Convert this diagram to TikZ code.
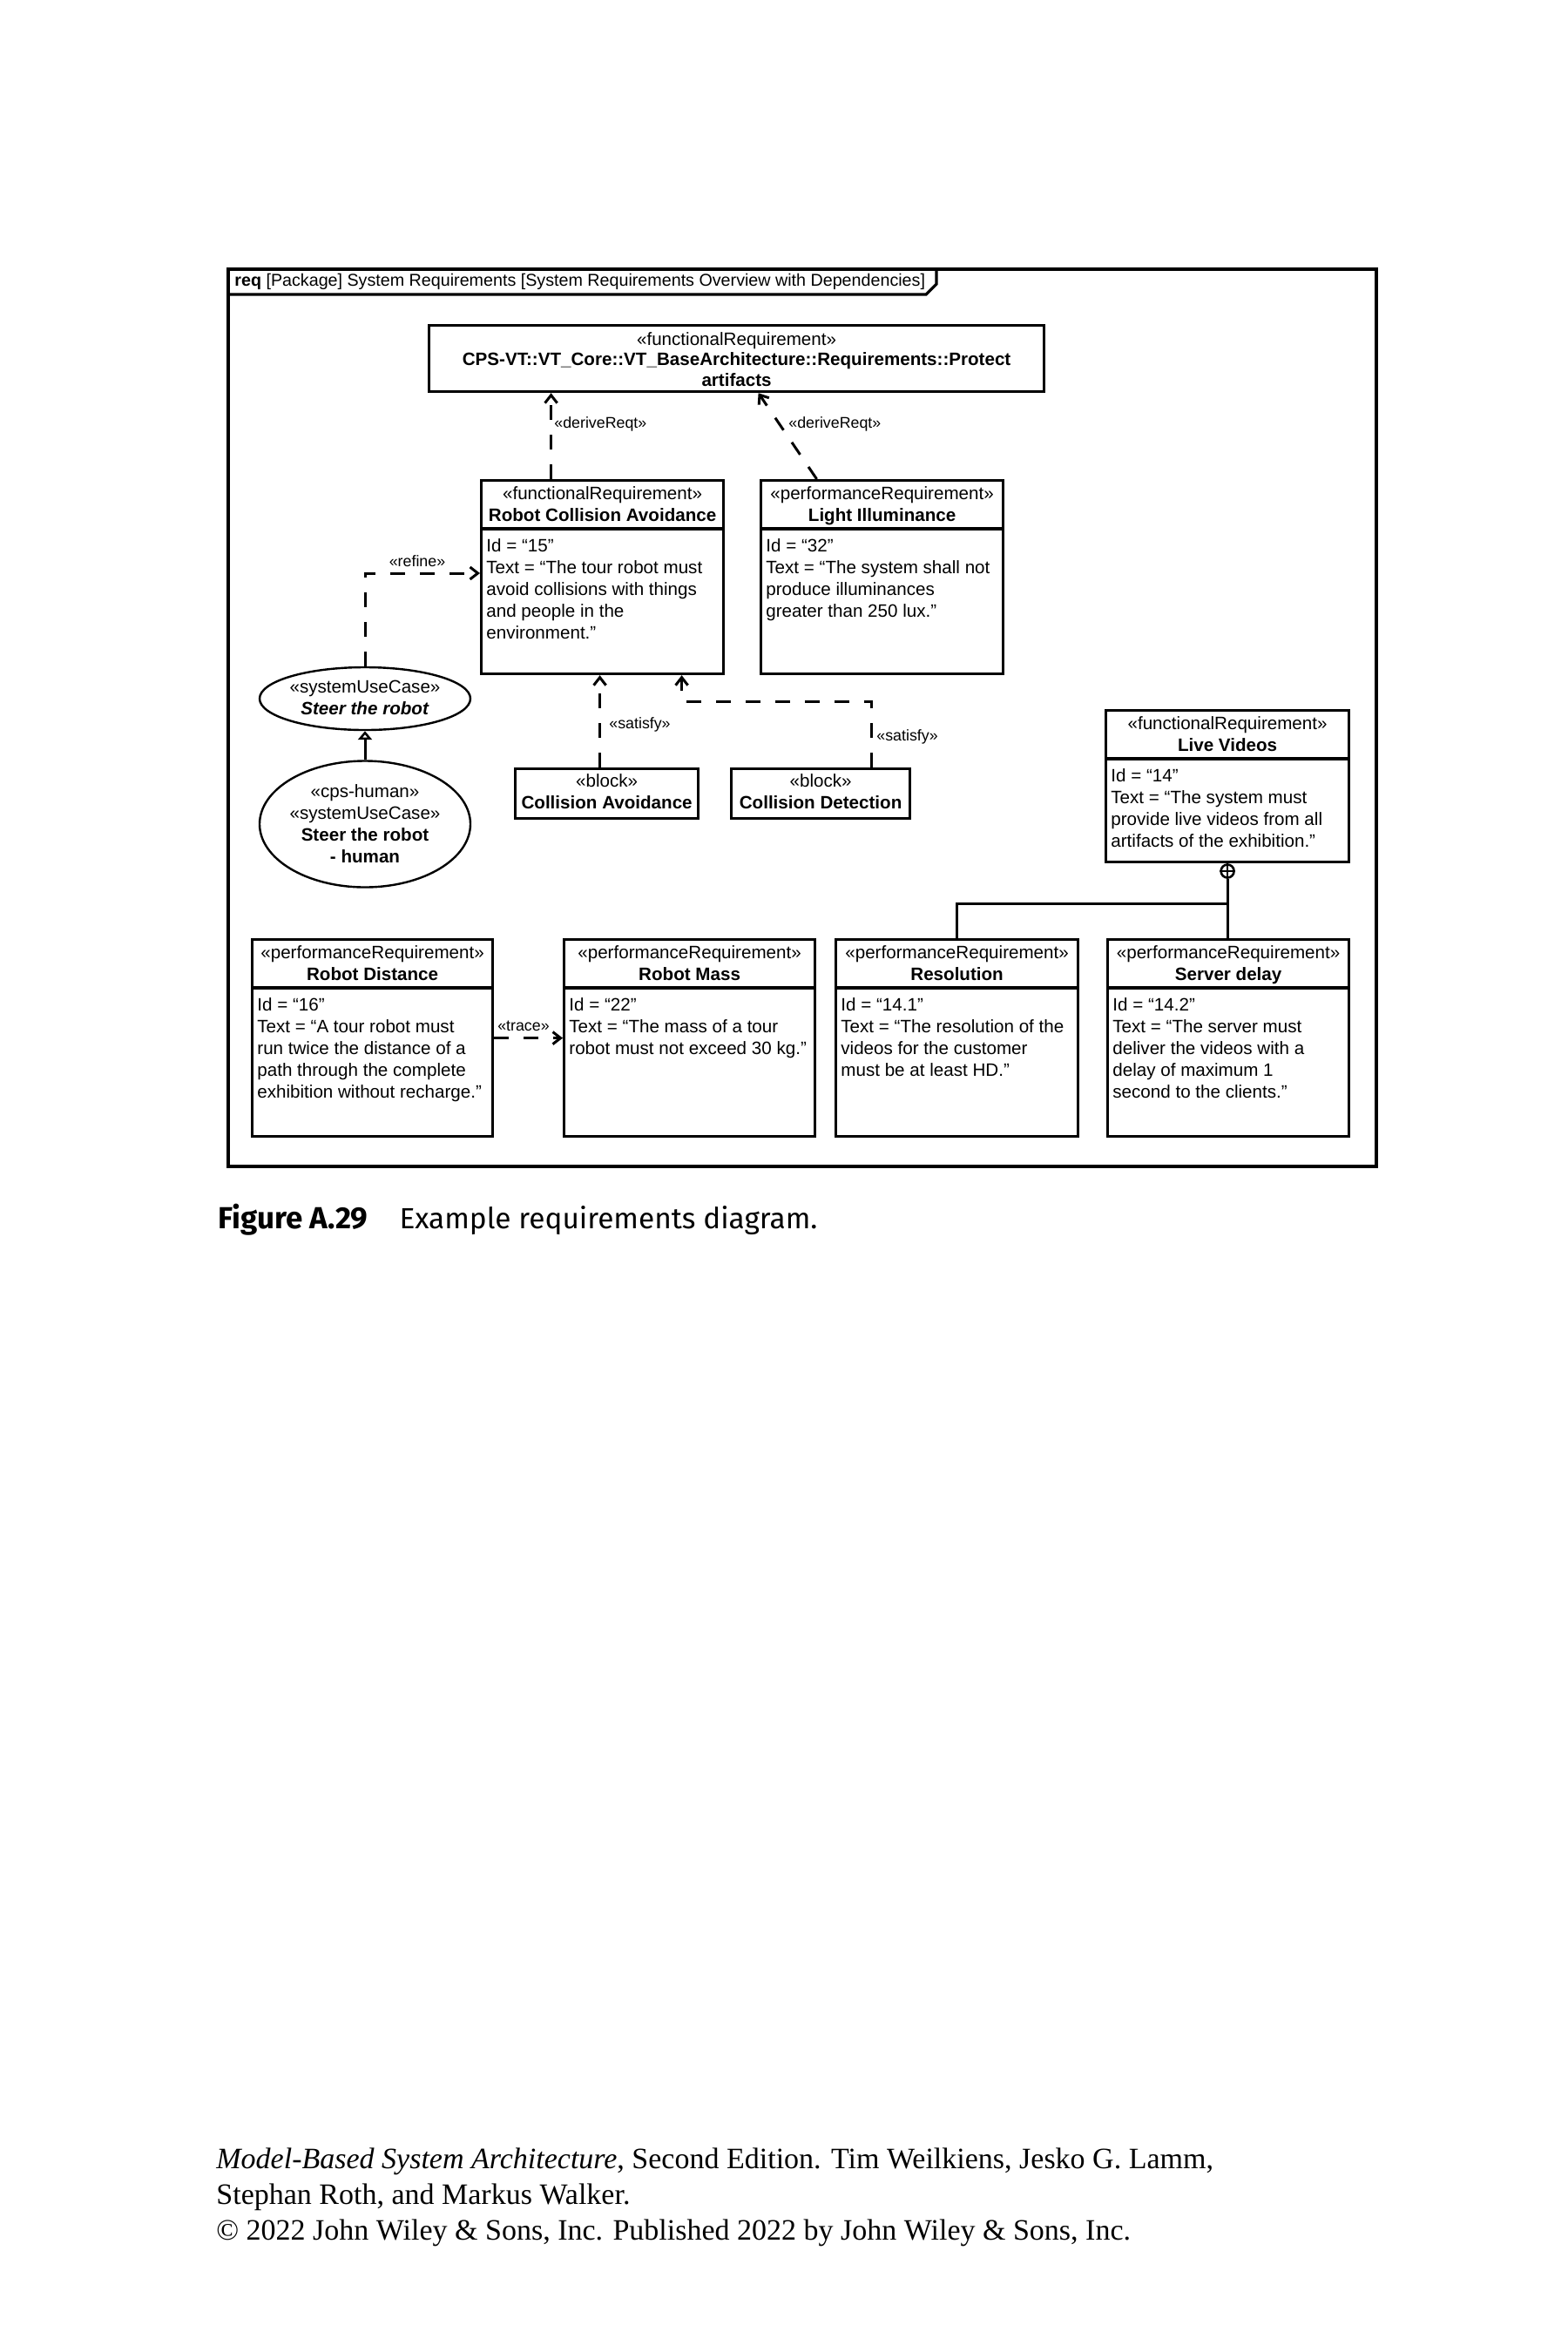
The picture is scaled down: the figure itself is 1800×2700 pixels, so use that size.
\documentclass[tikz,border=0pt]{standalone}
\usepackage{fontspec}
\setmainfont{Liberation Sans}
\newfontfamily\capfont{Fira Sans}
\newfontfamily\footfont{Liberation Serif}
\usetikzlibrary{arrows.meta,shapes.geometric,calc}

\newcommand\mlines[2]{\begin{tabular}[t]{@{}#1@{}}#2\end{tabular}}

\tikzset{
  x=0.5pt, y=-0.5pt,
  boxline/.style={line width=1.6pt},
  reqbox/.style={draw, boxline, rectangle, inner sep=0pt, anchor=north west},
  txt/.style={inner sep=0pt, font=\fontsize{10.3}{12.5}\selectfont},
  lbl/.style={inner sep=0pt, font=\fontsize{8.9}{10}\selectfont},
  dep/.style={line width=1.5pt, dash pattern=on 8.5pt off 8.5pt,
    -{Straight Barb[length=4.5pt,width=7pt,line width=1.5pt]}},
  conn/.style={line width=1.5pt},
  usecase/.style={ellipse, draw, line width=1.2pt, inner sep=0pt, minimum width=121pt},
}

\newcommand\req[8]{%
  \node[reqbox, minimum width=#4*0.5pt, minimum height=#5*0.5pt] (#1) at (#2,#3) {};
  \draw[boxline] ([yshift=-28.5pt]#1.north west) -- ([yshift=-28.5pt]#1.north east);
  \node[txt, anchor=base] (#1-h) at ([yshift=-11.5pt]#1.north) {\mlines{c}{#6\\\textbf{#7}}};
  \node[txt, anchor=base west] (#1-b) at ([xshift=3.5pt,yshift=-41.5pt]#1.north west) {\mlines{l}{#8}};
}

\begin{document}
\begin{tikzpicture}
\useasboundingbox (0,0) rectangle (1800,2700);

% frame
\node[draw, line width=2pt, rectangle, inner sep=0pt, anchor=north west,
  minimum width=659pt, minimum height=515pt] (frame) at (260,307) {};
\draw[boxline] (260,338) -- (1063,338) -- (1075,326) -- (1075,307);
\node[inner sep=0pt, anchor=base west, font=\fontsize{9.85}{11}\selectfont] (title) at (269,328)
  {\textbf{req} [Package] System Requirements [System Requirements Overview with Dependencies]};

% top requirement
\node[reqbox, minimum width=353pt, minimum height=38pt] (cps) at (491,372) {};
\node[txt, anchor=base] (cps-h) at ([yshift=-12pt]cps.north)
  {\fontsize{10.3}{11.8}\selectfont\mlines{c}{«functionalRequirement»\\\textbf{CPS-VT::VT\_Core::VT\_BaseArchitecture::Requirements::Protect}\\\textbf{artifacts}}};

% requirement boxes
\req{rca}{551}{550}{278}{222}{«functionalRequirement»}{Robot Collision Avoidance}
  {Id = “15”\\Text = “The tour robot must\\avoid collisions with things\\and people in the\\environment.”}
\req{li}{872}{550}{278}{222}{«performanceRequirement»}{Light Illuminance}
  {Id = “32”\\Text = “The system shall not\\produce illuminances\\greater than 250 lux.”}
\req{lv}{1268}{814}{279}{174}{«functionalRequirement»}{Live Videos}
  {Id = “14”\\Text = “The system must\\provide live videos from all\\artifacts of the exhibition.”}
\req{rd}{288}{1077}{276}{226}{«performanceRequirement»}{Robot Distance}
  {Id = “16”\\Text = “A tour robot must\\run twice the distance of a\\path through the complete\\exhibition without recharge.”}
\req{rm}{646}{1077}{288}{226}{«performanceRequirement»}{Robot Mass}
  {Id = “22”\\Text = “The mass of a tour\\robot must not exceed 30 kg.”}
\req{res}{958}{1077}{278}{226}{«performanceRequirement»}{Resolution}
  {Id = “14.1”\\Text = “The resolution of the\\videos for the customer\\must be at least HD.”}
\req{sd}{1270}{1077}{277}{226}{«performanceRequirement»}{Server delay}
  {Id = “14.2”\\Text = “The server must\\deliver the videos with a\\delay of maximum 1\\second to the clients.”}

% blocks
\node[reqbox, minimum width=105pt, minimum height=28.5pt] (ca) at (590,881) {};
\node[txt, anchor=base] (ca-t) at ([yshift=-11pt]ca.north) {\mlines{c}{«block»\\\textbf{Collision Avoidance}}};
\node[reqbox, minimum width=102.5pt, minimum height=28.5pt] (cd) at (838,881) {};
\node[txt, anchor=base] (cd-t) at ([yshift=-11pt]cd.north) {\mlines{c}{«block»\\\textbf{Collision Detection}}};

% use cases
\node[usecase, minimum height=36pt] (e1) at (419,802) {};
\node[txt, anchor=base] (e1t) at (419,795) {\mlines{c}{«systemUseCase»\\\textbf{\itshape Steer the robot}}};
\node[usecase, minimum height=72.5pt] (e2) at (419,946) {};
\node[txt, anchor=base] (e2t) at (419,915) {\mlines{c}{«cps-human»\\«systemUseCase»\\\textbf{Steer the robot}\\\textbf{- human}}};

% generalization
\draw[conn, -{Triangle[open, length=5pt, width=8pt, line width=1.3pt]}] (e2.north) -- (e1.south);

% dependencies
\draw[dep] ([xshift=-29.5pt]rca.north) -- ([xshift=-29.5pt]rca.north |- cps.south);
\node[lbl, anchor=base west] (l1) at (636,491) {«deriveReqt»};
\draw[dep] ([xshift=-37.5pt]li.north) -- ([xshift=12.5pt]cps.south);
\node[lbl, anchor=base west] (l2) at (905,491) {«deriveReqt»};
\draw[dep] (e1.north) |- ([yshift=-54pt]rca.north west);
\node[lbl, anchor=base] (l3) at (479,650) {«refine»};
\draw[dep] ([xshift=-4pt]ca.north) -- ([xshift=-4pt]ca.north |- rca.south);
\node[lbl, anchor=base west] (l4) at (699,836) {«satisfy»};
\draw[dep] ([xshift=29.25pt]cd.north) -- ++(0,-76) -| ([xshift=45.5pt]rca.south);
\node[lbl, anchor=base west] (l5) at (1006,850) {«satisfy»};
\draw[dep] (rd.east) -- (rm.west);
\node[lbl, anchor=base] (l6) at (601,1183) {«trace»};

% containment
\node[circle, draw, line width=1.3pt, minimum size=7.5pt, inner sep=0pt, anchor=north] (cont) at (lv.south) {};
\draw[line width=1.1pt] (cont.north) -- (cont.south) (cont.west) -- (cont.east);
\coordinate (junc) at (cont.south |- 0,1037);
\draw[conn] (cont.south) -- (cont.south |- sd.north);
\draw[conn] (res.north) |- (junc);

% caption
\node[anchor=base west, inner sep=0pt] (cap) at (250,1410)
  {\capfont\fontsize{17.5}{20}\selectfont\textbf{Figure A.29}\hspace{18pt}\fontsize{16.7}{20}\selectfont Example requirements diagram.};

% footer
\node[anchor=base west, inner sep=0pt] (foot) at (248,2489)
  {\footfont\fontsize{17}{20.5}\selectfont\mlines{l}{\textit{Model-Based System Architecture}, Second Edition. Tim Weilkiens, Jesko G. Lamm,\\Stephan Roth, and Markus Walker.\\© 2022 John Wiley \& Sons, Inc. Published 2022 by John Wiley \& Sons, Inc.}};
\end{tikzpicture}
\end{document}
